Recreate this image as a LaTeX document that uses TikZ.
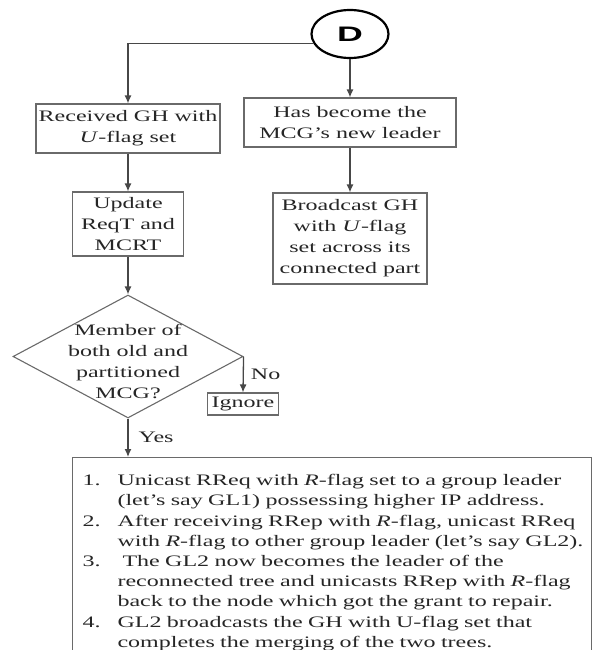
\documentclass[tikz,border=0pt]{standalone}
\usepackage{fontspec}
\setmainfont[FakeStretch=1.5]{Liberation Serif}
\newfontfamily\dfont[FakeStretch=1.7]{Liberation Sans}
\usepackage{tikz}
\usetikzlibrary{arrows.meta}
\usetikzlibrary{shapes.geometric}

\definecolor{linegray}{HTML}{474747}
\definecolor{boxgray}{HTML}{6A6A6A}
\definecolor{txtgray}{HTML}{262626}

\tikzset{
 flowbox/.style = {draw=boxgray, line width=1.1pt, align=center, inner sep=0pt, text=txtgray, font=\fontsize{16}{21}\selectfont},
 decbox/.style = {draw=boxgray, line width=1.1pt, diamond, inner sep=0pt},
 conn/.style = {draw=black, line width=2.2pt, ellipse, inner sep=0pt, minimum width=77pt, minimum height=48pt, font=\dfont\bfseries\fontsize{21}{21}\selectfont},
 flowline/.style = {draw=linegray, line width=1.3pt, -{Latex[length=8pt,width=7pt]}},
 tag/.style = {text=txtgray, inner sep=0pt, font=\fontsize{16}{21}\selectfont}
}

\begin{document}
\begin{tikzpicture}[x=1pt,y=1pt]
 \useasboundingbox (0,0) rectangle (592,-650);

 \node[conn] (D) at (350,-34) {D};
 \node[flowbox, minimum width=184pt, minimum height=49pt] (recv) at (128,-128.5) {Received GH with\\\textit{U}-flag set};
 \node[flowbox, minimum width=212pt, minimum height=49pt] (lead) at (350,-122.5) {Has become the\\MCG's new leader};
 \node[flowbox, minimum width=154pt, minimum height=91pt] (bcast) at (350,-238.5) {Broadcast GH\\with \textit{U}-flag\\set across its\\connected part};
 \node[flowbox, minimum width=111pt, minimum height=64pt] (upd) at (128,-224) {Update\\ReqT and\\MCRT};
 \node[decbox, minimum width=230pt, minimum height=123pt] (dec) at (128,-356.5) {};
 \node[tag, align=center] (dectxt) at (128,-361) {Member of\\both old and\\partitioned\\MCG?};
 \node[flowbox, minimum width=71pt, minimum height=22pt] (ign) at (243,-404) {Ignore};
 \node[flowbox, anchor=north west, align=left, inner xsep=10pt, inner ysep=4pt, text width=499pt, minimum height=210pt, font=\fontsize{16}{20.2}\selectfont] (steps) at (72,-457) {
 \begin{tabular}{@{}p{35pt}@{}l@{}}
 1. & Unicast RReq with \textit{R}-flag set to a group leader\\
    & (let's say GL1) possessing higher IP address.\\
 2. & After receiving RRep with \textit{R}-flag, unicast RReq\\
    & with \textit{R}-flag to other group leader (let's say GL2).\\
 3. & \hspace{5pt}The GL2 now becomes the leader of the\\
    & reconnected tree and unicasts RRep with \textit{R}-flag\\
    & back to the node which got the grant to repair.\\
 4. & GL2 broadcasts the GH with U-flag set that\\
    & completes the merging of the two trees.
 \end{tabular}
 };

 \draw[flowline] (D.195) -| (recv.north);
 \draw[flowline] (D.south) -- (lead.north);
 \draw[flowline] (lead.south) -- (bcast.north);
 \draw[flowline] (recv.south) -- (upd.north);
 \draw[flowline] (upd.south) -- (dec.north);
 \draw[flowline] (dec.east) -- node[tag, right=7pt] (nolbl) {No} (ign.north);
 \draw[flowline] (dec.south) -- node[tag, right=10pt] (yeslbl) {Yes} (dec.south |- steps.north);
\end{tikzpicture}
\end{document}
